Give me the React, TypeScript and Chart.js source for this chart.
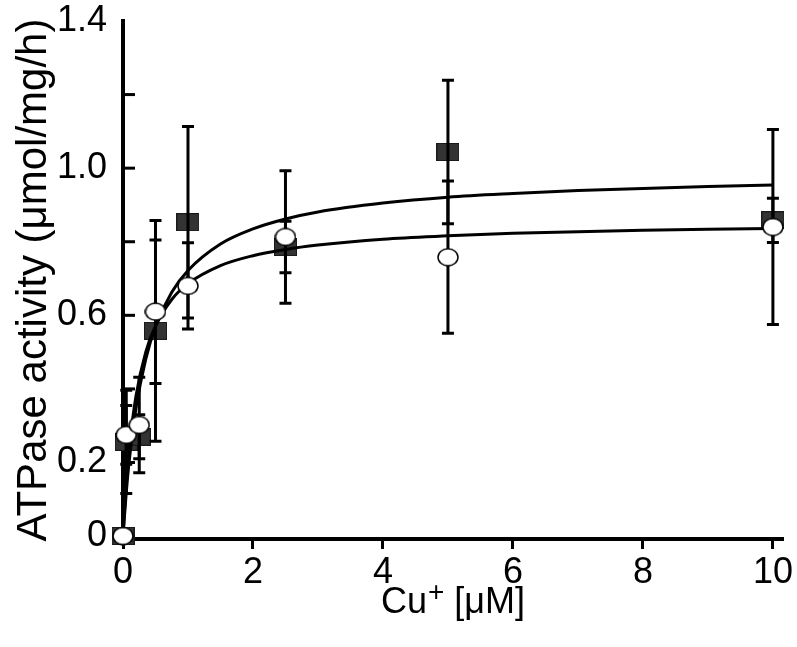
import React, { useEffect, useRef } from 'react';
import { Chart, registerables } from 'chart.js';

Chart.register(...registerables);

// Cu+ concentrations (µM)
const CONC = [0, 0.05, 0.25, 0.5, 1, 2.5, 5, 10];
// filled squares series
const SQUARE_Y = [0, 0.256, 0.27, 0.558, 0.853, 0.786, 1.044, 0.858];
const SQUARE_ERR = [0, 0.14, 0.06, 0.3, 0.26, 0.07, 0.195, 0.06];
// open circles series
const CIRCLE_Y = [0, 0.275, 0.302, 0.61, 0.68, 0.813, 0.758, 0.84];
const CIRCLE_ERR = [0, 0.08, 0.13, 0.195, 0.117, 0.18, 0.207, 0.265];

// fitted curves
const FIT_X = [0, 0.05, 0.1, 0.2, 0.35, 0.5, 0.75, 1, 1.5, 2, 2.5, 3, 4, 5, 6, 7, 8, 9, 10];
const FIT_SQUARE = [0, 0.118, 0.211, 0.348, 0.481, 0.569, 0.663, 0.722, 0.794, 0.835, 0.862, 0.881, 0.905, 0.921, 0.931, 0.939, 0.945, 0.95, 0.954];
const FIT_CIRCLE = [0, 0.143, 0.245, 0.381, 0.5, 0.571, 0.643, 0.686, 0.735, 0.762, 0.779, 0.791, 0.807, 0.816, 0.823, 0.827, 0.831, 0.834, 0.836];

const X_TICKS = [0, 2, 4, 6, 8, 10];
const Y_TICKS = [0, 0.2, 0.4, 0.6, 0.8, 1.0, 1.2, 1.4];
const Y_TICK_LABELS = ['0', '0.2', '', '0.6', '', '1.0', '', '1.4'];

const Y_TITLE = 'ATPase activity (μmol/mg/h)';
const X_TITLE_MAIN = 'Cu';
const X_TITLE_SUP = '+';
const X_TITLE_REST = ' [μM]';

const FONT = "'Liberation Sans', Arial, Helvetica, sans-serif";

function makeRect(w: number, h: number) {
  const c = document.createElement('canvas');
  c.width = w;
  c.height = h;
  const g = c.getContext('2d')!;
  g.fillStyle = '#333333';
  g.fillRect(0, 0, w, h);
  g.strokeStyle = '#1a1a1a';
  g.lineWidth = 1;
  g.strokeRect(0.5, 0.5, w - 1, h - 1);
  return c;
}

function makeEllipse(w: number, h: number) {
  const c = document.createElement('canvas');
  c.width = w;
  c.height = h;
  const g = c.getContext('2d')!;
  g.beginPath();
  g.ellipse(w / 2, h / 2, w / 2 - 1, h / 2 - 1, 0, 0, Math.PI * 2);
  g.fillStyle = '#ffffff';
  g.fill();
  g.strokeStyle = '#000000';
  g.lineWidth = 1.5;
  g.stroke();
  return c;
}

const errorBarPlugin = {
  id: 'errorBars',
  afterDatasetDraw(chart: any, args: any) {
    if (args.index !== 0) return;
    const { ctx } = chart;
    const x = chart.scales.x;
    const y = chart.scales.y;
    ctx.save();
    ctx.strokeStyle = '#000';
    ctx.lineWidth = 3;
    const series: [number[], number[]][] = [
      [SQUARE_Y, SQUARE_ERR],
      [CIRCLE_Y, CIRCLE_ERR],
    ];
    for (const [vals, errs] of series) {
      CONC.forEach((c, i) => {
        const e = errs[i];
        if (!e) return;
        const px = x.getPixelForValue(c);
        const top = y.getPixelForValue(vals[i] + e);
        const bot = y.getPixelForValue(vals[i] - e);
        ctx.beginPath();
        ctx.moveTo(px, top);
        ctx.lineTo(px, bot);
        ctx.moveTo(px - 6, top);
        ctx.lineTo(px + 6, top);
        ctx.moveTo(px - 6, bot);
        ctx.lineTo(px + 6, bot);
        ctx.stroke();
      });
    }
    ctx.restore();
  },
};

const axisDecorPlugin = {
  id: 'axisDecor',
  beforeDatasetsDraw(chart: any) {
    const { ctx } = chart;
    const x = chart.scales.x;
    const y = chart.scales.y;
    ctx.save();
    ctx.strokeStyle = '#000';
    ctx.lineWidth = 3;
    Y_TICKS.forEach((v, i) => {
      if (i === 0 || i === Y_TICKS.length - 1) return;
      const py = y.getPixelForValue(v);
      ctx.beginPath();
      ctx.moveTo(x.left, py);
      ctx.lineTo(x.left + 12, py);
      ctx.stroke();
    });
    ctx.restore();
  },
  afterDraw(chart: any) {
    const { ctx, chartArea } = chart;
    const cx = (chartArea.left + chartArea.right) / 2;
    const base = chart.scales.x.bottom - 34;
    ctx.save();
    ctx.fillStyle = '#000';
    ctx.textBaseline = 'alphabetic';
    ctx.textAlign = 'left';
    const mainFont = `36px ${FONT}`;
    const supFont = `28px ${FONT}`;
    ctx.font = mainFont;
    const w1 = ctx.measureText(X_TITLE_MAIN).width;
    const w3 = ctx.measureText(X_TITLE_REST).width;
    ctx.font = supFont;
    const w2 = ctx.measureText(X_TITLE_SUP).width;
    let sx = cx - (w1 + w2 + w3) / 2;
    ctx.font = mainFont;
    ctx.fillText(X_TITLE_MAIN, sx, base);
    sx += w1 + 1;
    ctx.font = supFont;
    ctx.fillText(X_TITLE_SUP, sx, base - 12);
    sx += w2;
    ctx.font = mainFont;
    ctx.fillText(X_TITLE_REST, sx, base);
    ctx.restore();
  },
};

export default function App() {
  const ref = useRef<HTMLCanvasElement | null>(null);

  useEffect(() => {
    if (!ref.current) return;
    const rectImg = makeRect(23, 18);
    const ellImg = makeEllipse(22, 19);

    const chart = new Chart(ref.current, {
      type: 'scatter',
      data: {
        datasets: [
          {
            label: 'squares',
            data: CONC.map((c, i) => ({ x: c, y: SQUARE_Y[i] })),
            pointStyle: rectImg as any,
            pointRadius: 10,
            showLine: false,
            order: 3,
            clip: false as any,
          },
          {
            label: 'fit squares',
            data: FIT_X.map((c, i) => ({ x: c, y: FIT_SQUARE[i] })),
            showLine: true,
            borderColor: '#000',
            borderWidth: 3,
            pointRadius: 0,
            cubicInterpolationMode: 'monotone',
            order: 1,
            clip: false as any,
          },
          {
            label: 'fit circles',
            data: FIT_X.map((c, i) => ({ x: c, y: FIT_CIRCLE[i] })),
            showLine: true,
            borderColor: '#000',
            borderWidth: 3,
            pointRadius: 0,
            cubicInterpolationMode: 'monotone',
            order: 1,
            clip: false as any,
          },
          {
            label: 'circles',
            data: CONC.map((c, i) => ({ x: c, y: CIRCLE_Y[i] })),
            pointStyle: ellImg as any,
            pointRadius: 10,
            showLine: false,
            order: 0,
            clip: false as any,
          },
        ],
      },
      options: {
        animation: false,
        responsive: false,
        devicePixelRatio: 1,
        layout: { padding: { left: 0, top: 21, right: 15, bottom: 0 } },
        plugins: {
          legend: { display: false },
          tooltip: { enabled: false },
        },
        scales: {
          x: {
            type: 'linear',
            position: 'bottom',
            min: 0,
            max: 10.14,
            afterFit: (s: any) => {
              s.height = 108;
              s.paddingLeft = 0;
              s.paddingRight = 0;
            },
            afterBuildTicks: (s: any) => {
              s.ticks = X_TICKS.map((v) => ({ value: v }));
            },
            grid: {
              display: true,
              drawOnChartArea: false,
              drawTicks: true,
              tickLength: 10,
              lineWidth: 3,
              color: '#000',
            },
            border: { display: true, width: 4, color: '#000' },
            ticks: {
              color: '#000',
              font: { family: FONT, size: 36 },
              padding: 2,
              maxRotation: 0,
              callback: (v: any) => String(v),
            },
          },
          y: {
            type: 'linear',
            min: -0.008,
            max: 1.4,
            afterFit: (s: any) => {
              s.width = 123;
              s.paddingTop = 0;
              s.paddingBottom = 0;
            },
            afterBuildTicks: (s: any) => {
              s.ticks = Y_TICKS.map((v) => ({ value: v }));
            },
            grid: { display: false },
            border: { display: true, width: 4, color: '#000' },
            ticks: {
              color: '#000',
              font: { family: FONT, size: 36 },
              padding: 8,
              callback: (v: any) => {
                const i = Y_TICKS.findIndex((t) => Math.abs(t - v) < 1e-6);
                return i >= 0 ? Y_TICK_LABELS[i] : '';
              },
            },
            title: {
              display: true,
              text: Y_TITLE,
              color: '#000',
              font: { family: FONT, size: 42 },
              padding: { top: 9, bottom: 0 },
            },
          },
        },
      },
      plugins: [errorBarPlugin, axisDecorPlugin],
    });
    return () => chart.destroy();
  }, []);

  return (
    <div style={{ position: 'fixed', left: 0, top: 0, width: 797, height: 647, background: '#fff' }}>
      <canvas ref={ref} width={797} height={647} />
    </div>
  );
}
